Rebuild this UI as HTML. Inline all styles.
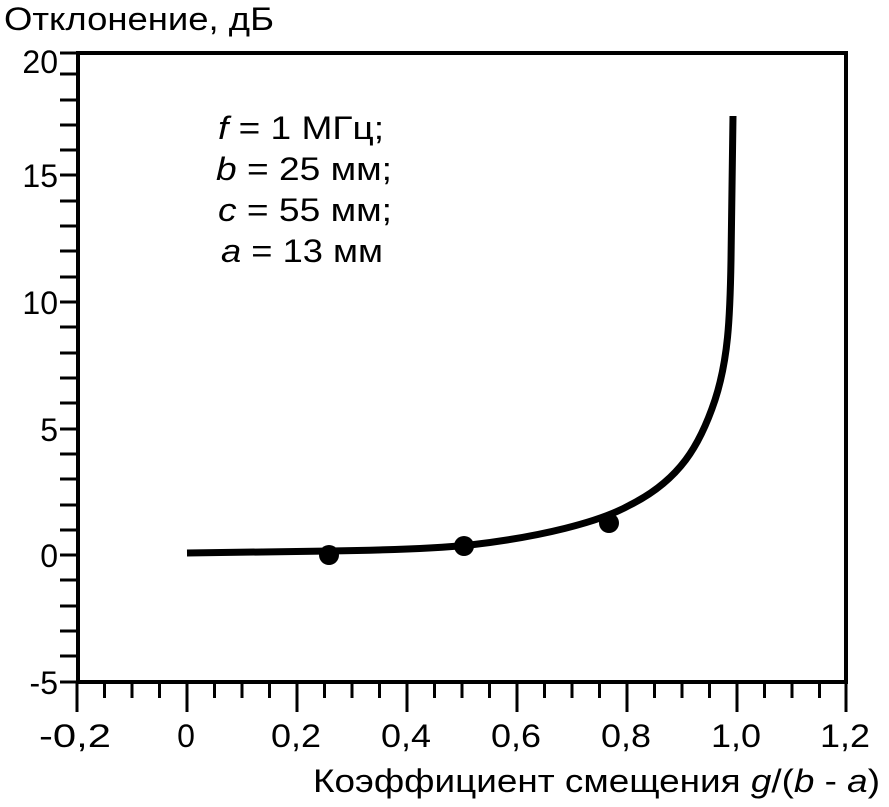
<!DOCTYPE html>
<html><head><meta charset="utf-8"><style>
html,body{margin:0;padding:0;background:#fff;}
svg{display:block;font-family:"Liberation Sans",Arial,sans-serif;}
</style></head><body>
<svg width="889" height="807" viewBox="0 0 889 807" xmlns="http://www.w3.org/2000/svg">
<text x="4" y="30" font-size="32" textLength="270" lengthAdjust="spacingAndGlyphs">Отклонение, дБ</text>
<rect x="78" y="53" width="768" height="629" fill="none" stroke="#000" stroke-width="4"/>
<g stroke="#000" stroke-width="3">
<line x1="60" y1="53" x2="78" y2="53"/>
<line x1="60" y1="74" x2="78" y2="74"/><line x1="60" y1="100" x2="78" y2="100"/><line x1="60" y1="125" x2="78" y2="125"/><line x1="60" y1="150" x2="78" y2="150"/><line x1="60" y1="175" x2="78" y2="175"/>
<line x1="60" y1="201" x2="78" y2="201"/><line x1="60" y1="226" x2="78" y2="226"/><line x1="60" y1="251" x2="78" y2="251"/><line x1="60" y1="277" x2="78" y2="277"/><line x1="60" y1="302" x2="78" y2="302"/>
<line x1="60" y1="327" x2="78" y2="327"/><line x1="60" y1="353" x2="78" y2="353"/><line x1="60" y1="378" x2="78" y2="378"/><line x1="60" y1="403" x2="78" y2="403"/><line x1="60" y1="429" x2="78" y2="429"/>
<line x1="60" y1="454" x2="78" y2="454"/><line x1="60" y1="479" x2="78" y2="479"/><line x1="60" y1="505" x2="78" y2="505"/><line x1="60" y1="530" x2="78" y2="530"/><line x1="60" y1="555" x2="78" y2="555"/>
<line x1="60" y1="580" x2="78" y2="580"/><line x1="60" y1="606" x2="78" y2="606"/><line x1="60" y1="631" x2="78" y2="631"/><line x1="60" y1="656" x2="78" y2="656"/><line x1="60" y1="682" x2="78" y2="682"/>
</g>
<g stroke="#000" stroke-width="3">
<line x1="77" y1="682" x2="77" y2="712"/><line x1="104.5" y1="682" x2="104.5" y2="698"/><line x1="132" y1="682" x2="132" y2="698"/><line x1="159.5" y1="682" x2="159.5" y2="698"/>
<line x1="187" y1="682" x2="187" y2="712"/><line x1="214.5" y1="682" x2="214.5" y2="698"/><line x1="242" y1="682" x2="242" y2="698"/><line x1="269.5" y1="682" x2="269.5" y2="698"/>
<line x1="297" y1="682" x2="297" y2="712"/><line x1="324.5" y1="682" x2="324.5" y2="698"/><line x1="352" y1="682" x2="352" y2="698"/><line x1="379.5" y1="682" x2="379.5" y2="698"/>
<line x1="407" y1="682" x2="407" y2="712"/><line x1="434.5" y1="682" x2="434.5" y2="698"/><line x1="462" y1="682" x2="462" y2="698"/><line x1="489.5" y1="682" x2="489.5" y2="698"/>
<line x1="517" y1="682" x2="517" y2="712"/><line x1="544.5" y1="682" x2="544.5" y2="698"/><line x1="572" y1="682" x2="572" y2="698"/><line x1="599.5" y1="682" x2="599.5" y2="698"/>
<line x1="627" y1="682" x2="627" y2="712"/><line x1="654.5" y1="682" x2="654.5" y2="698"/><line x1="682" y1="682" x2="682" y2="698"/><line x1="709.5" y1="682" x2="709.5" y2="698"/>
<line x1="737" y1="682" x2="737" y2="712"/><line x1="764.5" y1="682" x2="764.5" y2="698"/><line x1="792" y1="682" x2="792" y2="698"/><line x1="819.5" y1="682" x2="819.5" y2="698"/>
<line x1="846" y1="682" x2="846" y2="712"/>
</g>
<g font-size="32" text-anchor="end">
<text x="58" y="73">20</text><text x="58" y="187">15</text><text x="58" y="314">10</text><text x="58" y="441">5</text><text x="58" y="567">0</text><text x="58" y="694">-5</text>
</g>
<g font-size="32" text-anchor="middle">
<text x="75" y="747" textLength="72" lengthAdjust="spacingAndGlyphs">-0,2</text><text x="186" y="747">0</text><text x="296" y="747" textLength="50" lengthAdjust="spacingAndGlyphs">0,2</text><text x="406" y="747" textLength="50" lengthAdjust="spacingAndGlyphs">0,4</text><text x="516" y="747" textLength="50" lengthAdjust="spacingAndGlyphs">0,6</text><text x="626" y="747" textLength="50" lengthAdjust="spacingAndGlyphs">0,8</text><text x="736" y="747" textLength="50" lengthAdjust="spacingAndGlyphs">1,0</text><text x="845" y="747" textLength="50" lengthAdjust="spacingAndGlyphs">1,2</text>
</g>
<text x="313" y="792" font-size="32" textLength="567" lengthAdjust="spacingAndGlyphs">Коэффициент смещения <tspan font-style="italic">g</tspan>/(<tspan font-style="italic">b</tspan> - <tspan font-style="italic">a</tspan>)</text>
<g font-size="32">
<text x="218" y="139" textLength="166" lengthAdjust="spacingAndGlyphs"><tspan font-style="italic">f</tspan> = 1 МГц;</text>
<text x="216" y="180" textLength="176" lengthAdjust="spacingAndGlyphs"><tspan font-style="italic">b</tspan> = 25 мм;</text>
<text x="218" y="221" textLength="174" lengthAdjust="spacingAndGlyphs"><tspan font-style="italic">c</tspan> = 55 мм;</text>
<text x="221" y="262" textLength="162" lengthAdjust="spacingAndGlyphs"><tspan font-style="italic">a</tspan> = 13 мм</text>
</g>
<path d="M187,553 L330,551 C400,550 440,548 470,545 C540,537 600,522 630,505 C680,480 700,445 715,400 C728,360 730,320 731,260 L733,116" fill="none" stroke="#000" stroke-width="7" stroke-linejoin="round"/>
<circle cx="329" cy="555" r="10"/><circle cx="464" cy="546" r="10"/><circle cx="609" cy="523" r="10"/>
</svg>
</body></html>
